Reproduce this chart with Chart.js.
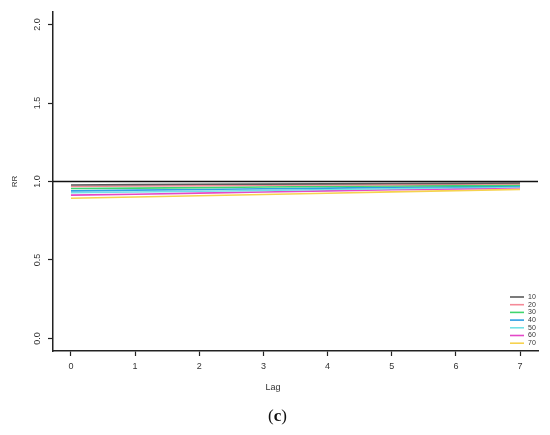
<!DOCTYPE html>
<html>
<head>
<meta charset="utf-8">
<script src="https://cdn.jsdelivr.net/npm/chart.js@4/dist/chart.umd.min.js"></script>
<style>
  html, body { margin: 0; padding: 0; background: #fff; }
  .wrap { position: relative; width: 550px; height: 435px; }
  .cap { position: absolute; left: 0; width: 555px; top: 406px; text-align: center;
         font-family: "Liberation Serif", "DejaVu Serif", serif; font-size: 17px; color: #111; }
</style>
</head>
<body>
<div class="wrap">
  <canvas id="rr" width="550" height="435"></canvas>
  <div class="cap">(<b>c</b>)</div>
</div>
<script>
// RR by lag, one line per group (10..70)
(function () {
    "use strict";

    var LAGS = [0, 1, 2, 3, 4, 5, 6, 7];
    var Y_TICKS = [0, 0.5, 1.0, 1.5, 2.0];
    var GROUPS = ["10", "20", "30", "40", "50", "60", "70"];
    var COLORS = ["#5a5a5a", "#f58a98", "#3fd56e", "#2f9fe3", "#72e1e6", "#e448c8", "#f6d24e"];

    var RR_10 = [0.978, 0.980, 0.982, 0.983, 0.985, 0.987, 0.988, 0.990];
    var RR_20 = [0.968, 0.971, 0.973, 0.976, 0.978, 0.980, 0.983, 0.985];
    var RR_30 = [0.955, 0.958, 0.961, 0.965, 0.968, 0.971, 0.974, 0.977];
    var RR_40 = [0.940, 0.945, 0.949, 0.954, 0.958, 0.963, 0.967, 0.972];
    var RR_50 = [0.928, 0.933, 0.938, 0.943, 0.949, 0.954, 0.960, 0.965];
    var RR_60 = [0.913, 0.919, 0.926, 0.933, 0.940, 0.947, 0.953, 0.960];
    var RR_70 = [0.893, 0.901, 0.909, 0.917, 0.925, 0.934, 0.942, 0.950];
    var SERIES = [RR_10, RR_20, RR_30, RR_40, RR_50, RR_60, RR_70];

    var REF = 1.0;        // reference line
    var X_MIN = -0.28, X_MAX = 7.28;
    var Y_MIN = -0.08, Y_MAX = 2.08;

    var FONT = "'Liberation Sans', Arial, sans-serif";

    var datasets = [{
        label: "ref",
        data: [{ x: X_MIN, y: REF }, { x: X_MAX, y: REF }],
        borderColor: "#111",
        borderWidth: 1.5,
        pointRadius: 0,
        order: 0
    }];
    GROUPS.forEach(function (g, i) {
        datasets.push({
            label: g,
            data: SERIES[i].map(function (v, k) { return { x: LAGS[k], y: v }; }),
            borderColor: COLORS[i],
            borderWidth: 1.6,
            pointRadius: 0,
            order: 1
        });
    });

    // legend bottom-right, R style
    var legendPlugin = {
        id: "rLegend",
        afterDraw: function (c) {
            var ctx = c.ctx;
            ctx.save();
            ctx.font = "7px " + FONT;
            ctx.textBaseline = "middle";
            ctx.textAlign = "left";
            GROUPS.forEach(function (g, i) {
                var y = 297 + i * 7.7;
                ctx.strokeStyle = COLORS[i];
                ctx.lineWidth = 1.6;
                ctx.beginPath();
                ctx.moveTo(510, y);
                ctx.lineTo(524, y);
                ctx.stroke();
                ctx.fillStyle = "#333";
                ctx.fillText(g, 528, y);
            });
            ctx.font = "9px " + FONT;
            ctx.textAlign = "center";
            ctx.fillStyle = "#333";
            ctx.fillText("Lag", 273, 388);
            ctx.restore();
        }
    };

    new Chart(document.getElementById("rr").getContext("2d"), {
        type: "line",
        data: { datasets: datasets },
        options: {
            responsive: false,
            animation: false,
            layout: { padding: { top: 12, right: 12, left: 0, bottom: 0 } },
            plugins: { legend: { display: false }, tooltip: { enabled: false } },
            scales: {
                x: {
                    type: "linear", min: X_MIN, max: X_MAX,
                    afterBuildTicks: function (s) { s.ticks = LAGS.map(function (v) { return { value: v }; }); },
                    afterFit: function (s) { s.height = 84; },
                    grid: { drawOnChartArea: false, tickLength: 5, tickColor: "#222", tickWidth: 1.2 },
                    border: { display: true, color: "#222", width: 1.5 },
                    ticks: { font: { size: 9, family: FONT }, color: "#333", padding: 5, maxRotation: 0,
                             callback: function (v) { return String(v); } }
                },
                y: {
                    type: "linear", min: Y_MIN, max: Y_MAX,
                    afterBuildTicks: function (s) { s.ticks = Y_TICKS.map(function (v) { return { value: v }; }); },
                    afterFit: function (s) { s.width = 53; },
                    grid: { drawOnChartArea: false, tickLength: 5, tickColor: "#222", tickWidth: 1.2 },
                    border: { display: true, color: "#222", width: 1.5 },
                    ticks: { font: { size: 9, family: FONT }, color: "#333", padding: 4,
                             minRotation: 90, maxRotation: 90, crossAlign: "center",
                             callback: function (v) { return v.toFixed(1); } },
                    title: { display: true, text: "RR", font: { size: 8, family: FONT }, color: "#333",
                             padding: { top: 10, bottom: 0 } }
                }
            }
        },
        plugins: [legendPlugin]
    });
})();
</script>
</body>
</html>
